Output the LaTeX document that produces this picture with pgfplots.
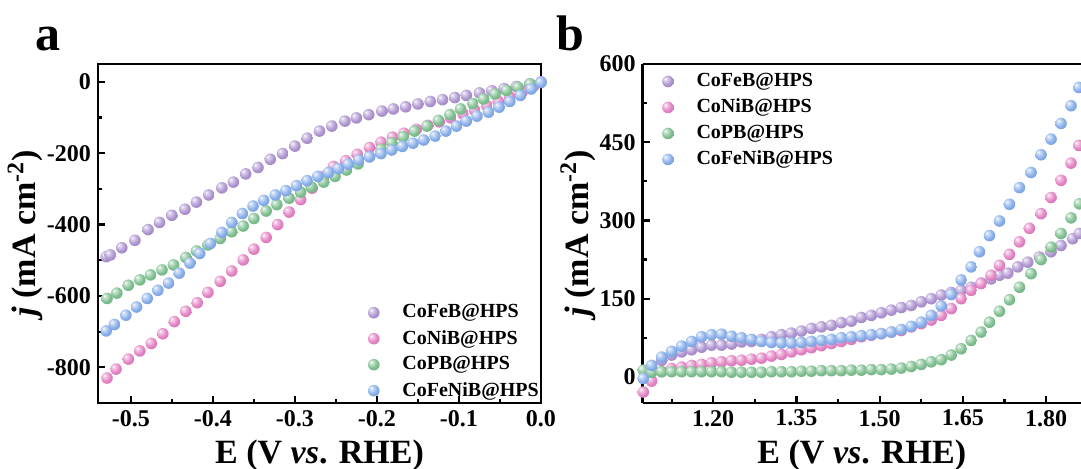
\documentclass[border=0pt]{standalone}
\usepackage{fontspec}
\setmainfont{Liberation Serif}
\usepackage{pgfplots}
\pgfplotsset{compat=1.18}
\definecolor{cfeb}{RGB}{160,130,200}
\definecolor{cnib}{RGB}{222,110,185}
\definecolor{cpb}{RGB}{105,180,125}
\definecolor{cfnib}{RGB}{115,160,230}
\makeatletter
\pgfdeclareradialshading[tikz@ball]{lball}{\pgfpoint{-12bp}{12bp}}{%
 color(0bp)=(white); color(5bp)=(tikz@ball!30!white); color(22bp)=(tikz@ball!85!white);
 color(45bp)=(tikz@ball!88!black); color(64bp)=(tikz@ball!70!black)}
\pgfdeclareplotmark{lball}{\pgfpathcircle{\pgfpointorigin}{\pgfplotmarksize}\pgfshadepath{lball}{0}\pgfusepath{discard}}
\makeatother
\pgfplotsset{
 myaxis/.style={
  scale only axis, anchor=south west,
  axis line style={line width=1.4pt},
  every tick/.style={line width=1.1pt, black},
  major tick length=3.5pt, minor tick length=2pt,
  tick align=inside, xtick pos=bottom, ytick pos=left,
  minor x tick num=1, minor y tick num=1,
  ticklabel style={font=\fontsize{12}{14}\selectfont\bfseries},
  label style={font=\fontsize{17}{20}\selectfont\bfseries},
  ylabel style={yshift=-5pt},
  /pgf/number format/assume math mode=true,
  legend style={draw=none, fill=none, font=\fontsize{10}{12}\selectfont\bfseries,
     row sep=1.5pt, nodes={inner sep=1.6pt}},
  legend cell align=left,
  legend image code/.code={\draw[##1] plot coordinates {(0pt,0pt)}; \node[draw=none, fill=none, inner sep=0pt, minimum size=0pt] at (12.5pt,0pt) {};},
 },
 s1/.style={only marks, mark=lball, mark size=2.9pt, ball color=cfeb},
 s2/.style={only marks, mark=lball, mark size=2.9pt, ball color=cnib},
 s3/.style={only marks, mark=lball, mark size=2.9pt, ball color=cpb},
 s4/.style={only marks, mark=lball, mark size=2.9pt, ball color=cfnib},
}
\begin{document}
\begin{tikzpicture}
\useasboundingbox (0,0) rectangle (540.5pt,234pt);
\node[anchor=base west, font=\fontsize{25}{28}\selectfont\bfseries, inner sep=0pt] at (17.5pt,209pt) {a};
\node[anchor=base west, font=\fontsize{25}{28}\selectfont\bfseries, inner sep=0pt] at (278pt,209pt) {b};
\begin{axis}[myaxis, at={(49pt,32.5pt)}, width=221.5pt, height=169.5pt,
  xmin=-0.54, xmax=0, ymin=-900, ymax=50,
  xtick={-0.5,-0.4,-0.3,-0.2,-0.1,0},
  ytick={-800,-600,-400,-200,0},
  xticklabel style={/pgf/number format/.cd, fixed, fixed zerofill, precision=1},
  xlabel={E (V \textit{vs}. RHE)},
  ylabel={\textit{j} (mA cm\textsuperscript{-2})},
  legend style={at={(axis description cs:0.595,-0.011)}, anchor=south west},
]
\addplot[s1] coordinates {(-0.530,-490)(-0.525,-485)(-0.511,-465)(-0.495,-444)(-0.479,-414)(-0.465,-394)(-0.450,-374)(-0.434,-357)(-0.420,-337)(-0.405,-317)(-0.389,-297)(-0.375,-281)(-0.360,-258)(-0.345,-240)(-0.330,-217)(-0.315,-201)(-0.300,-180)(-0.285,-158)(-0.270,-138)(-0.255,-124)(-0.239,-110)(-0.225,-101)(-0.210,-92)(-0.194,-82)(-0.180,-76)(-0.165,-70)(-0.150,-62)(-0.135,-55)(-0.120,-50)(-0.105,-44)(-0.091,-38)(-0.075,-31)(-0.060,-25)(-0.045,-19)(-0.030,-13)(-0.014,-6)(0.000,0)};
\addlegendentry{CoFeB@HPS}
\addplot[s2] coordinates {(-0.529,-830)(-0.518,-805)(-0.503,-777)(-0.489,-754)(-0.475,-733)(-0.461,-706)(-0.447,-672)(-0.433,-643)(-0.419,-619)(-0.406,-590)(-0.391,-559)(-0.377,-530)(-0.363,-499)(-0.350,-469)(-0.335,-436)(-0.321,-400)(-0.307,-365)(-0.293,-330)(-0.279,-298)(-0.265,-265)(-0.253,-237)(-0.238,-221)(-0.224,-203)(-0.209,-184)(-0.195,-169)(-0.181,-155)(-0.167,-144)(-0.152,-133)(-0.138,-122)(-0.124,-112)(-0.110,-101)(-0.095,-90)(-0.081,-79)(-0.066,-67)(-0.052,-55)(-0.038,-42)(-0.023,-28)(-0.009,-12)};
\addlegendentry{CoNiB@HPS}
\addplot[s3] coordinates {(-0.529,-607)(-0.517,-592)(-0.503,-570)(-0.489,-555)(-0.476,-541)(-0.462,-527)(-0.448,-513)(-0.433,-492)(-0.420,-474)(-0.406,-457)(-0.391,-439)(-0.377,-420)(-0.363,-404)(-0.350,-383)(-0.335,-362)(-0.322,-344)(-0.307,-326)(-0.293,-309)(-0.280,-295)(-0.265,-281)(-0.251,-265)(-0.237,-247)(-0.223,-230)(-0.209,-210)(-0.195,-189)(-0.182,-171)(-0.168,-154)(-0.154,-138)(-0.139,-124)(-0.125,-108)(-0.111,-92)(-0.098,-76)(-0.083,-61)(-0.070,-48)(-0.056,-34)(-0.042,-24)(-0.028,-15)(-0.013,-6)};
\addlegendentry{CoPB@HPS}
\addplot[s4] coordinates {(-0.530,-698)(-0.520,-680)(-0.506,-654)(-0.493,-631)(-0.480,-607)(-0.467,-584)(-0.454,-564)(-0.441,-536)(-0.428,-508)(-0.416,-481)(-0.403,-453)(-0.389,-422)(-0.377,-394)(-0.364,-369)(-0.351,-348)(-0.338,-332)(-0.324,-317)(-0.311,-305)(-0.298,-291)(-0.285,-277)(-0.272,-265)(-0.259,-254)(-0.247,-243)(-0.235,-231)(-0.222,-219)(-0.209,-210)(-0.195,-201)(-0.182,-191)(-0.169,-181)(-0.156,-172)(-0.143,-163)(-0.129,-152)(-0.116,-138)(-0.103,-124)(-0.091,-110)(-0.078,-96)(-0.064,-85)(-0.051,-71)(-0.038,-55)(-0.025,-38)(-0.012,-20)(0.000,-2)};
\addlegendentry{CoFeNiB@HPS}
\end{axis}
\begin{axis}[myaxis, at={(321.3pt,32.5pt)}, width=219.2pt, height=169.5pt,
  axis x line*=box, axis y line*=left,
  xmin=1.0727, xmax=1.863, ymin=-50, ymax=600,
  xtick={1.20,1.35,1.50,1.65,1.80},
  minor xtick={1.125,1.275,1.425,1.575,1.725},
  ytick={0,150,300,450,600},
  xticklabel style={/pgf/number format/.cd, fixed, fixed zerofill, precision=2},
  xlabel={E (V \textit{vs}. RHE)},
  ylabel={\textit{j} (mA cm\textsuperscript{-2})},
  legend style={at={(axis description cs:0.03,0.995)}, anchor=north west},
]
\addplot[s1] coordinates {(1.089,19)(1.107,32)(1.125,42)(1.143,48)(1.161,52)(1.179,57)(1.197,61)(1.215,61)(1.233,63)(1.251,67)(1.269,68)(1.287,72)(1.305,77)(1.323,81)(1.341,84)(1.359,88)(1.377,93)(1.395,96)(1.413,99)(1.431,104)(1.449,107)(1.467,114)(1.485,118)(1.503,123)(1.521,128)(1.539,133)(1.557,137)(1.575,144)(1.593,150)(1.611,157)(1.629,162)(1.647,166)(1.665,172)(1.683,180)(1.701,188)(1.716,195)(1.731,199)(1.749,211)(1.767,220)(1.788,230)(1.809,240)(1.827,252)(1.848,265)(1.860,275)(1.878,285)};
\addlegendentry{CoFeB@HPS}
\addplot[s2] coordinates {(1.074,-29)(1.089,-8)(1.107,10)(1.125,16)(1.143,19)(1.161,22)(1.179,24)(1.197,27)(1.215,29)(1.233,31)(1.251,32)(1.269,34)(1.287,36)(1.305,40)(1.323,43)(1.341,48)(1.359,52)(1.377,56)(1.395,60)(1.413,64)(1.431,68)(1.449,72)(1.467,77)(1.485,80)(1.503,83)(1.521,86)(1.539,89)(1.557,96)(1.575,102)(1.593,109)(1.611,118)(1.629,131)(1.647,150)(1.665,166)(1.683,179)(1.701,195)(1.716,214)(1.734,235)(1.752,259)(1.770,285)(1.791,313)(1.809,344)(1.827,377)(1.845,410)(1.859,444)(1.877,480)};
\addlegendentry{CoNiB@HPS}
\addplot[s3] coordinates {(1.074,13)(1.089,9)(1.107,10)(1.125,10)(1.143,10)(1.161,10)(1.179,10)(1.197,10)(1.215,10)(1.233,9)(1.251,9)(1.269,9)(1.287,9)(1.305,10)(1.323,10)(1.341,10)(1.359,11)(1.377,11)(1.395,12)(1.413,12)(1.431,12)(1.449,13)(1.467,13)(1.485,14)(1.503,14)(1.521,15)(1.539,17)(1.557,20)(1.575,24)(1.593,29)(1.611,33)(1.629,42)(1.647,54)(1.665,70)(1.683,86)(1.698,105)(1.716,126)(1.734,148)(1.752,172)(1.773,198)(1.791,225)(1.809,249)(1.827,275)(1.845,305)(1.860,332)(1.878,365)};
\addlegendentry{CoPB@HPS}
\addplot[s4] coordinates {(1.074,-3)(1.089,22)(1.107,38)(1.125,49)(1.143,59)(1.161,68)(1.179,77)(1.197,81)(1.215,82)(1.233,78)(1.251,75)(1.269,72)(1.287,68)(1.305,66)(1.323,65)(1.341,65)(1.359,66)(1.377,68)(1.395,70)(1.413,72)(1.431,75)(1.449,77)(1.467,79)(1.485,81)(1.503,83)(1.521,86)(1.539,91)(1.557,97)(1.575,105)(1.593,118)(1.611,136)(1.629,158)(1.647,186)(1.665,211)(1.680,240)(1.698,271)(1.716,299)(1.734,331)(1.752,363)(1.773,392)(1.791,426)(1.809,456)(1.827,486)(1.845,520)(1.859,555)(1.875,600)};
\addlegendentry{CoFeNiB@HPS}
\end{axis}
\end{tikzpicture}
\end{document}
